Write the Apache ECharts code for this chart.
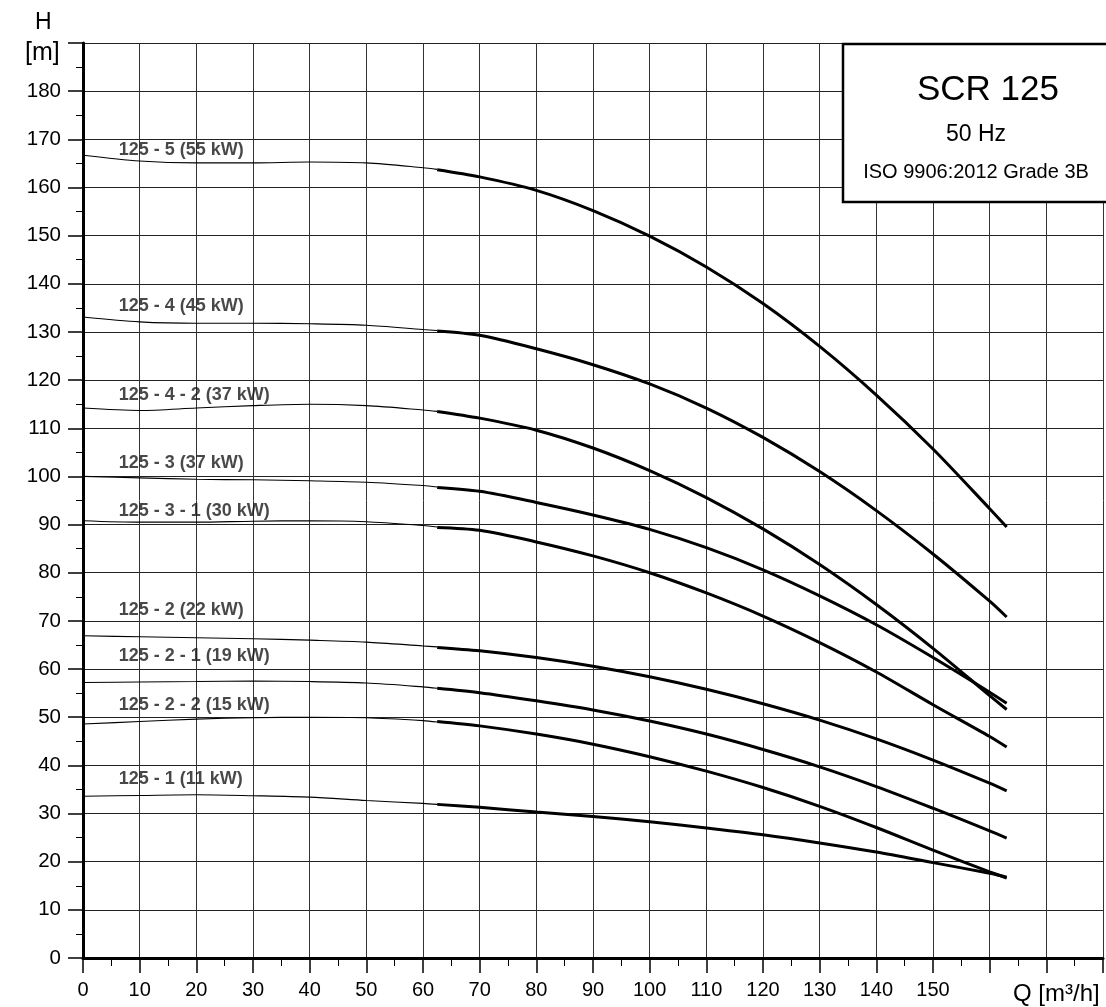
<!DOCTYPE html>
<html>
<head>
<meta charset="utf-8">
<script src="https://cdn.jsdelivr.net/npm/echarts@6/dist/echarts.min.js"></script>
<style>
html,body{margin:0;padding:0;background:#fff;}
#chart{width:1106px;height:1007px;}
</style>
</head>
<body>
<div id="chart"></div>
<script>
// ---- data ----
const Q_THIN  = [0, 10, 20, 30, 40, 50, 60, 62.5];
const Q_THICK = [62.5, 70, 80, 90, 100, 110, 120, 130, 140, 150, 160, 163];

const CURVE_NAMES = ['125 - 5 (55 kW)', '125 - 4 (45 kW)', '125 - 4 - 2 (37 kW)', '125 - 3 (37 kW)',
  '125 - 3 - 1 (30 kW)', '125 - 2 (22 kW)', '125 - 2 - 1 (19 kW)', '125 - 2 - 2 (15 kW)', '125 - 1 (11 kW)'];

const H_5_THIN    = [166.7, 165.5, 165.1, 165.1, 165.3, 165.1, 164.1, 163.75];
const H_5_THICK   = [163.7, 162.2, 159.4, 155.2, 149.9, 143.5, 135.9, 127.0, 116.9, 105.7, 93.3, 89.5];
const H_4_THIN    = [133.1, 132.1, 131.8, 131.8, 131.7, 131.4, 130.5, 130.3];
const H_4_THICK   = [130.2, 129.3, 126.5, 123.2, 119.2, 114.2, 108.1, 101.0, 92.9, 83.9, 74.1, 70.8];
const H_4_2_THIN  = [114.2, 113.7, 114.2, 114.7, 115.0, 114.7, 113.8, 113.5];
const H_4_2_THICK = [113.5, 112.1, 109.6, 105.9, 101.2, 95.6, 89.1, 81.7, 73.4, 64.3, 54.5, 51.6];
const H_3_THIN    = [100.0, 99.7, 99.4, 99.3, 99.1, 98.8, 98.1, 97.8];
const H_3_THICK   = [97.7, 96.9, 94.6, 92.0, 89.0, 85.2, 80.6, 75.2, 69.2, 62.4, 55.2, 52.9];
const H_3_1_THIN  = [90.8, 90.5, 90.5, 90.7, 90.8, 90.6, 89.8, 89.5];
const H_3_1_THICK = [89.4, 88.8, 86.4, 83.5, 80.0, 75.8, 71.0, 65.5, 59.4, 52.6, 46.0, 43.8];
const H_2_THIN    = [66.9, 66.7, 66.5, 66.3, 66.0, 65.6, 64.8, 64.6];
const H_2_THICK   = [64.5, 63.8, 62.4, 60.6, 58.4, 55.8, 52.8, 49.4, 45.5, 41.1, 36.3, 34.7];
const H_2_1_THIN  = [57.2, 57.3, 57.4, 57.5, 57.4, 57.1, 56.3, 56.0];
const H_2_1_THICK = [56.0, 55.1, 53.4, 51.5, 49.2, 46.5, 43.3, 39.7, 35.6, 31.1, 26.4, 24.9];
const H_2_2_THIN  = [48.6, 49.1, 49.6, 49.9, 50.0, 49.9, 49.3, 49.0];
const H_2_2_THICK = [49.1, 48.2, 46.5, 44.4, 41.8, 38.8, 35.4, 31.5, 27.1, 22.4, 17.9, 16.6];
const H_1_THIN    = [33.6, 33.75, 33.9, 33.7, 33.4, 32.7, 32.1, 31.9];
const H_1_THICK   = [31.9, 31.3, 30.3, 29.4, 28.3, 27.0, 25.6, 23.9, 22.0, 19.8, 17.6, 16.8];

// curve label anchors (in Q / H units)
const LABEL_Q = [6.3, 6.3, 6.3, 6.3, 6.3, 6.3, 6.3, 6.3, 6.3];
const LABEL_H = [167.7, 135.3, 116.9, 102.7, 92.8, 72.3, 62.8, 52.6, 37.2];

const X_TICKS_HIDDEN = [160, 170, 180];
const Y_TICK_HIDDEN = [190];

// ---- build ----
const THIN = [H_5_THIN, H_4_THIN, H_4_2_THIN, H_3_THIN, H_3_1_THIN, H_2_THIN, H_2_1_THIN, H_2_2_THIN, H_1_THIN];
const THICK = [H_5_THICK, H_4_THICK, H_4_2_THICK, H_3_THICK, H_3_1_THICK, H_2_THICK, H_2_1_THICK, H_2_2_THICK, H_1_THICK];
const pair = (qs, hs) => qs.map((q, i) => [q, hs[i]]);

const series = [];
CURVE_NAMES.forEach((name, i) => {
  series.push({
    type: 'line', name: name + ' thin', data: pair(Q_THIN, THIN[i]),
    smooth: 0.3, symbol: 'none', z: 5,
    lineStyle: { color: '#000', width: 1.1 }
  });
  series.push({
    type: 'line', name: name, data: pair(Q_THICK, THICK[i]),
    smooth: 0.3, symbol: 'none', z: 5,
    lineStyle: { color: '#000', width: 3, cap: 'butt' }
  });
});
series.push({
  type: 'scatter', name: 'labels', symbolSize: 0, z: 6,
  data: CURVE_NAMES.map((n, i) => ({ name: n, value: [LABEL_Q[i], LABEL_H[i]] })),
  label: {
    show: true, formatter: p => p.name, position: [0, 0], align: 'left', verticalAlign: 'middle',
    fontFamily: "'Liberation Sans', Arial, sans-serif", fontWeight: 'bold', fontSize: 18, color: '#1a1a1a'
  }
});

const FONT = "'Liberation Sans', Arial, sans-serif";
const chart = echarts.init(document.getElementById('chart'));
chart.setOption({
  animation: false,
  backgroundColor: '#fff',
  grid: { left: 83, right: 0, top: 43, bottom: 49, containLabel: false },
  xAxis: {
    type: 'value', min: 0, max: 180, interval: 10,
    axisLine: { show: true, onZero: false, lineStyle: { color: '#000', width: 3 } },
    axisTick: { show: true, length: 15, lineStyle: { color: '#000', width: 1.5 } },
    minorTick: { show: true, splitNumber: 2, length: 8, lineStyle: { color: '#000', width: 1 } },
    splitLine: { show: true, lineStyle: { color: '#333', width: 1 } },
    axisLabel: {
      margin: 22, fontSize: 20, fontFamily: FONT, color: '#000',
      formatter: v => X_TICKS_HIDDEN.includes(v) ? '' : String(v)
    }
  },
  yAxis: {
    type: 'value', min: 0, max: 190, interval: 10,
    axisLine: { show: true, onZero: false, lineStyle: { color: '#000', width: 3 } },
    axisTick: { show: true, length: 15, lineStyle: { color: '#000', width: 1.5 } },
    minorTick: { show: true, splitNumber: 2, length: 7, lineStyle: { color: '#000', width: 1 } },
    splitLine: { show: true, lineStyle: { color: '#222', width: 1 } },
    axisLabel: {
      margin: 22, fontSize: 20.5, fontFamily: FONT, color: '#000',
      formatter: v => Y_TICK_HIDDEN.includes(v) ? '' : String(v)
    }
  },
  series: series,
  graphic: [
    { type: 'text', left: 35, top: 11, z: 10, style: { text: 'H', font: '23px ' + FONT, fill: '#000' } },
    { type: 'text', left: 25, top: 41, z: 10, style: { text: '[m]', font: '25px ' + FONT, fill: '#000' } },
    { type: 'text', left: 1013, top: 982, z: 10, style: { text: 'Q [m³/h]', font: '24px ' + FONT, fill: '#000' } },
    { type: 'rect', z: 20, shape: { x: 843, y: 44, width: 280, height: 158 },
      style: { fill: '#fff', stroke: '#000', lineWidth: 2.5 } },
    { type: 'text', z: 21, x: 988, y: 90, style: { text: 'SCR 125', font: '35px ' + FONT, fill: '#000', align: 'center', verticalAlign: 'middle' } },
    { type: 'text', z: 21, x: 976, y: 135, style: { text: '50 Hz', font: '23px ' + FONT, fill: '#000', align: 'center', verticalAlign: 'middle' } },
    { type: 'text', z: 21, x: 976, y: 172, style: { text: 'ISO 9906:2012 Grade 3B', font: '20px ' + FONT, fill: '#000', align: 'center', verticalAlign: 'middle' } }
  ]
});
</script>
</body>
</html>
